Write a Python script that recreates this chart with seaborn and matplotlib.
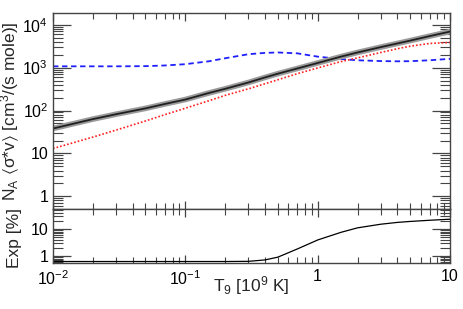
import numpy as np
import pandas as pd
import matplotlib
matplotlib.use("Agg")
import matplotlib.pyplot as plt
import matplotlib.ticker as mticker
import seaborn as sns

# ---- data ----
T9 = [0.01, 0.02, 0.03, 0.05, 0.07, 0.1, 0.15, 0.2, 0.3, 0.4, 0.5, 0.7,
      1.0, 1.5, 2.0, 3.0, 4.0, 5.0, 7.0, 10.0]
rate_total = [38, 63, 82, 112, 142, 180, 255, 320, 450, 590, 720, 950,
              1280, 1800, 2250, 3000, 3650, 4250, 5400, 6900]
rate_red = [13, 24, 35, 57, 80, 113, 168, 225, 320, 420, 520, 720,
            980, 1380, 1680, 2250, 2750, 3150, 3650, 3850]
rate_blue = [1070, 1070, 1070, 1080, 1120, 1200, 1400, 1650, 2050, 2200, 2250, 2150,
             1800, 1580, 1480, 1420, 1400, 1410, 1480, 1600]
exp_pct = [0.62, 0.62, 0.62, 0.62, 0.62, 0.62, 0.62, 0.62, 0.63, 0.71, 0.9, 1.8,
           3.9, 7.5, 11, 15, 17.5, 19, 21, 23]

xticks = [0.01, 0.1, 1, 10]
xticklabels = ["$10^{-2}$", "$10^{-1}$", "1", "10"]
yticks_top = [1, 10, 100, 1000, 10000]
yticklabels_top = ["1", "10", "$10^2$", "$10^3$", "$10^4$"]
yticks_bot = [1, 10]
yticklabels_bot = ["1", "10"]

df = pd.DataFrame({"T9": T9, "total": rate_total, "red": rate_red,
                   "blue": rate_blue, "exp": exp_pct})

sns.set_style("ticks")
plt.rcParams["font.family"] = ["Liberation Sans", "DejaVu Sans"]
plt.rcParams["mathtext.default"] = "regular"

fig = plt.figure(figsize=(4.63, 3.09), dpi=100)
L, R = 53 / 463, 450 / 463
ax1 = fig.add_axes([L, 1 - 209 / 309, R - L, (209 - 13) / 309])
ax2 = fig.add_axes([L, 1 - 262.5 / 309, R - L, (262.5 - 209) / 309])

sns.lineplot(data=df, x="T9", y="blue", ax=ax1, color="#2020ff", lw=1.3,
             linestyle=(0, (3, 2)))
sns.lineplot(data=df, x="T9", y="red", ax=ax1, color="#ff2020", lw=1.2,
             linestyle=(0, (1, 1.2)))
sns.lineplot(data=df, x="T9", y="total", ax=ax1, color="#9a9a9a", lw=4.0)
sns.lineplot(data=df, x="T9", y="total", ax=ax1, color="#202020", lw=1.3)
sns.lineplot(data=df, x="T9", y="exp", ax=ax2, color="black", lw=0.9)

for ax in (ax1, ax2):
    ax.set_xscale("log")
    ax.set_yscale("log")
    ax.set_xlim(0.01, 10)
    for s in ax.spines.values():
        s.set_visible(True)
        s.set_color("#444444")
        s.set_linewidth(1.0)
    ax.tick_params(which="both", direction="in", top=True, right=True,
                   colors="#444444", labelcolor="black", labelsize=11.5)
    ax.tick_params(axis="y", which="major", length=13, width=0.9)
    ax.tick_params(axis="y", which="minor", length=7, width=0.8)
    ax.tick_params(axis="x", which="major", length=6, width=0.9)
    ax.tick_params(axis="x", which="minor", length=4, width=0.8)
    ax.set_xticks(xticks)
    ax.xaxis.set_minor_locator(mticker.LogLocator(base=10, subs=np.arange(2, 10)))
    ax.yaxis.set_minor_locator(mticker.LogLocator(base=10, subs=np.arange(2, 10)))
    ax.xaxis.set_minor_formatter(mticker.NullFormatter())
    ax.yaxis.set_minor_formatter(mticker.NullFormatter())

ax1.set_ylim(0.507, 1.87e4)
ax1.set_yticks(yticks_top)
ax1.set_yticklabels(yticklabels_top)
ax1.set_xticklabels([])
ax1.set_xlabel("")
ax1.set_ylabel(r"N$_A$ $\langle$σ*v$\rangle$ [cm$^3$/(s mole)]", fontsize=12.5)
ax1.yaxis.set_label_coords(-0.078, 0.50)

ax2.set_ylim(0.57, 55)
ax2.set_yticks(yticks_bot)
ax2.set_yticklabels(yticklabels_bot)
ax2.set_xticklabels(xticklabels)
ax2.set_xlabel("T$_9$ [10$^9$ K]", fontsize=12.5)
ax2.xaxis.set_label_coords(0.5, -0.22)
ax2.set_ylabel("Exp [%]", fontsize=12.5)
ax2.yaxis.set_label_coords(-0.078, 0.45)
ax2.tick_params(axis="x", pad=5)

fig.savefig("out.png", dpi=100)
